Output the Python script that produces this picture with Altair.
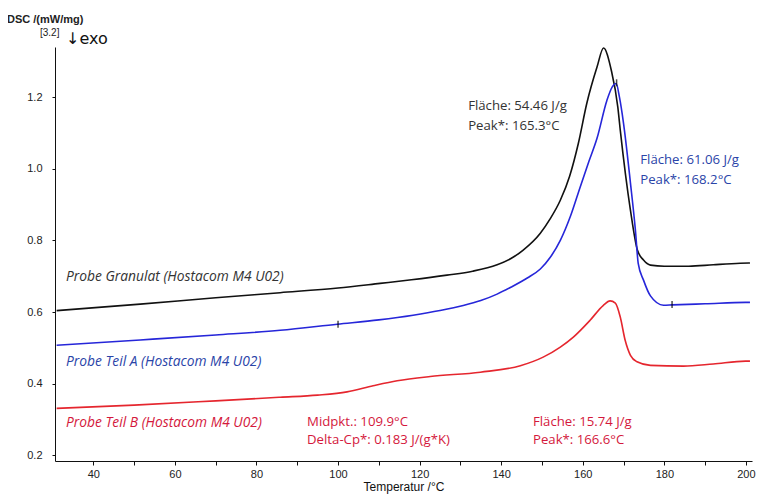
import altair as alt
import pandas as pd

# ---- data ----
granulat_T = [31, 51.5, 70, 85.8, 100, 110.3, 118, 126.7, 133, 139.0, 142.5, 145.4, 149.6, 152, 154.5,
              156.8, 158.9, 161.0, 163.5, 165.1, 167.0, 168.6, 169.2, 171.7, 173.4, 174.9, 176.6, 180,
              186, 192, 198.6, 201]
granulat_Y = [0.604, 0.622, 0.640, 0.654, 0.667, 0.680, 0.690, 0.703, 0.714, 0.732, 0.750, 0.773, 0.820,
              0.860, 0.912, 0.980, 1.070, 1.183, 1.284, 1.337, 1.275, 1.172, 1.108, 0.884, 0.773, 0.745,
              0.731, 0.728, 0.728, 0.732, 0.736, 0.737]

teilA_T = [31, 51.5, 70, 85.8, 99.8, 110, 118.4, 125, 130.7, 135, 139, 142.5, 146.4, 149.6, 152.0,
           154.5, 157, 159.4, 161.5, 163.5, 165.9, 167.2, 168.2, 169.0, 170.0, 171.7, 172.9, 173.6,
           174.9, 176.6, 179.8, 182, 190, 199.9, 201]
teilA_Y = [0.507, 0.522, 0.536, 0.549, 0.566, 0.578, 0.591, 0.604, 0.618, 0.632, 0.650, 0.670, 0.695,
           0.720, 0.752, 0.800, 0.868, 0.950, 1.020, 1.085, 1.190, 1.228, 1.238, 1.200, 1.127, 0.960,
           0.830, 0.736, 0.689, 0.645, 0.619, 0.620, 0.623, 0.627, 0.627]

teilB_T = [31, 50, 70, 85.8, 95, 102.2, 108.6, 114.5, 122.6, 134.9, 144.7, 150.3, 154.5, 157.7, 161.8,
           165.0, 166.7, 168.0, 169.2, 170.4, 171.7, 173.3, 176.6, 184.7, 192, 199.9, 201]
teilB_Y = [0.331, 0.340, 0.352, 0.362, 0.368, 0.377, 0.394, 0.408, 0.420, 0.432, 0.450, 0.474, 0.502,
           0.530, 0.577, 0.618, 0.631, 0.625, 0.586, 0.521, 0.479, 0.461, 0.451, 0.449, 0.455, 0.463, 0.463]

series_names = ["Granulat", "Teil A", "Teil B"]
line_colors = ["#111111", "#2626d9", "#e5262e"]

x_ticks = [40, 50, 60, 70, 80, 90, 100, 110, 120, 130, 140, 150, 160, 170, 180, 190, 200]
y_ticks = [0.2, 0.3, 0.4, 0.5, 0.6, 0.7, 0.8, 0.9, 1.0, 1.1, 1.2, 1.3]

marker_T = [100, 168.3, 181.9]
marker_Y = [0.566, 1.240, 0.621]

sample_labels = ["Probe Granulat (Hostacom M4 U02)", "Probe Teil A (Hostacom M4 U02)",
                 "Probe Teil B (Hostacom M4 U02)"]
sample_label_T = [33.3, 33.3, 33.3]
sample_label_Y = [0.697, 0.461, 0.289]
sample_label_colors = ["#333333", "#2a44a8", "#d4183c"]

ann_texts = ["Fläche: 54.46 J/g", "Peak*: 165.3°C",
             "Fläche: 61.06 J/g", "Peak*: 168.2°C",
             "Midpkt.: 109.9°C", "Delta-Cp*: 0.183 J/(g*K)",
             "Fläche: 15.74 J/g", "Peak*: 166.6°C"]
ann_T = [131.9, 131.9, 174.1, 174.1, 92.4, 92.4, 147.8, 147.8]
ann_Y = [1.175, 1.119, 1.024, 0.968, 0.292, 0.242, 0.292, 0.242]
ann_colors = ["#333333", "#333333", "#2a44a8", "#2a44a8", "#d4183c", "#d4183c", "#d4183c", "#d4183c"]

# ---- build tables ----
rows = []
for name, T, Y in zip(series_names, [granulat_T, teilA_T, teilB_T], [granulat_Y, teilA_Y, teilB_Y]):
    for i, (t, y) in enumerate(zip(T, Y)):
        rows.append({"series": name, "T": t, "DSC": y, "order": i})
df_lines = pd.DataFrame(rows)

df_markers = pd.DataFrame({"T": marker_T, "DSC": marker_Y})
df_samples = pd.DataFrame({"T": sample_label_T, "DSC": sample_label_Y, "text": sample_labels,
                           "color": sample_label_colors})
df_ann = pd.DataFrame({"T": ann_T, "DSC": ann_Y, "text": ann_texts, "color": ann_colors})

XMIN, XMAX = 30.6, 201.5
YMIN, YMAX = 0.184, 1.34

x_scale = alt.Scale(domain=[XMIN, XMAX], nice=False, zero=False)
y_scale = alt.Scale(domain=[YMIN, YMAX], nice=False, zero=False)

axis_font = "Liberation Sans Narrow, Liberation Sans, Arial, sans-serif"

x_axis = alt.Axis(values=x_ticks, labelExpr="datum.value % 20 == 0 ? datum.value : ''",
                  title="Temperatur /°C", titleFont=axis_font, titleFontSize=12,
                  titleFontWeight="normal", titleColor="#111", titlePadding=2,
                  labelFont=axis_font, labelFontSize=11, labelColor="#222", labelPadding=3,
                  tickSize=4, tickColor="#111", domainColor="#111", grid=False,
                  labelFlush=False)
y_axis = alt.Axis(values=y_ticks,
                  labelExpr="(round(datum.value*10) % 2 == 0) ? format(datum.value, '.1f') : ''",
                  title=None, labelFont=axis_font, labelFontSize=11, labelColor="#222",
                  labelPadding=10, tickSize=3, tickColor="#111", domainColor="#111", grid=False,
                  labelFlush=False)

lines = alt.Chart(df_lines).mark_line(strokeWidth=1.6, interpolate="monotone", clip=False).encode(
    x=alt.X("T:Q", scale=x_scale, axis=x_axis),
    y=alt.Y("DSC:Q", scale=y_scale, axis=y_axis),
    color=alt.Color("series:N", scale=alt.Scale(domain=series_names, range=line_colors), legend=None),
    order="order:Q",
    detail="series:N",
)

markers = alt.Chart(df_markers).mark_tick(orient="vertical", size=7, thickness=1.5, color="#000").encode(
    x=alt.X("T:Q", scale=x_scale), y=alt.Y("DSC:Q", scale=y_scale)
)

sample_text = alt.Chart(df_samples).mark_text(
    align="left", baseline="middle", font="Open Sans", fontSize=13.8, fontStyle="italic"
).encode(
    x=alt.X("T:Q", scale=x_scale), y=alt.Y("DSC:Q", scale=y_scale), text="text:N",
    color=alt.Color("color:N", scale=None)
)

ann_text = alt.Chart(df_ann).mark_text(
    align="left", baseline="middle", font="Open Sans", fontSize=13.2
).encode(
    x=alt.X("T:Q", scale=x_scale), y=alt.Y("DSC:Q", scale=y_scale), text="text:N",
    color=alt.Color("color:N", scale=None)
)

title_df = pd.DataFrame({"t": ["DSC /(mW/mg)"]})
ytitle = alt.Chart(title_df).mark_text(
    align="left", baseline="middle", font=axis_font, fontSize=11, fontWeight="bold", color="#222"
).encode(x=alt.value(-48), y=alt.value(-27), text="t:N")

bracket = alt.Chart(pd.DataFrame({"t": ["[3.2]"]})).mark_text(
    align="left", baseline="middle", font=axis_font, fontSize=10, color="#222"
).encode(x=alt.value(-15), y=alt.value(-14), text="t:N")

exo = alt.Chart(pd.DataFrame({"t": ["↓exo"]})).mark_text(
    align="left", baseline="middle", font="DejaVu Sans", fontSize=16, color="#111"
).encode(x=alt.value(11), y=alt.value(-8), text="t:N")

chart = alt.layer(lines, markers, sample_text, ann_text, ytitle, bracket, exo).properties(
    width=697, height=414,
    autosize=alt.AutoSizeParams(type="none"),
    padding={"left": 47, "top": 39, "right": 8, "bottom": 35},
    background="white",
).configure_view(stroke=None)

chart.save("out.html", embed_options={"renderer": "svg", "actions": False})
